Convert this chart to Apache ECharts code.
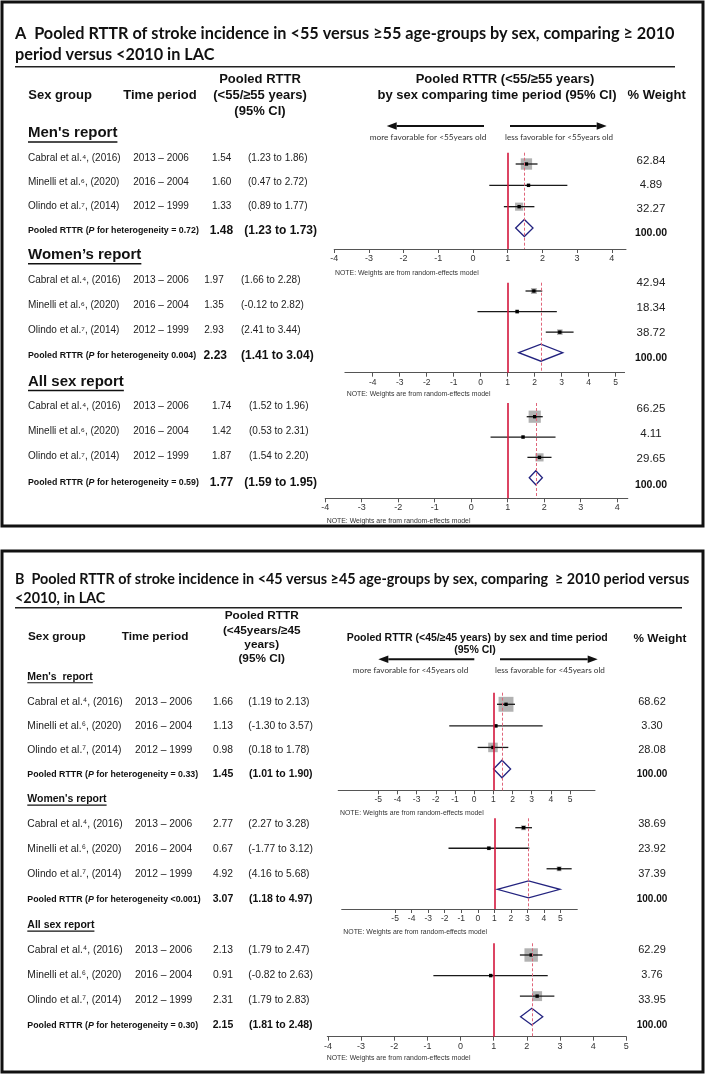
<!DOCTYPE html>
<html><head><meta charset="utf-8">
<script src="https://cdn.jsdelivr.net/npm/echarts@6/dist/echarts.min.js"></script>
<style>html,body{margin:0;padding:0;background:#fff}#c{width:709px;height:1075px}</style>
</head><body><div id="c"></div>
<script>
// ================= DATA =================
const studyLabels = ['Cabral et al.\u2074, (2016)', 'Minelli et al.\u2076, (2020)', 'Olindo et al.\u2077, (2014)'];
const timePeriods = ['2013 \u2013 2006', '2016 \u2013 2004', '2012 \u2013 1999'];
const sexGroupsA = ["Men's report", "Women\u2019s report", "All sex report"];
const sexGroupsB = ["Men's  report", "Women's report", "All sex report"];
const pooledWeight = 100.00;

// Panel A (<55 vs >=55)
const aMenRTTR = [1.54, 1.60, 1.33];
const aMenLow = [1.23, 0.47, 0.89];
const aMenHigh = [1.86, 2.72, 1.77];
const aMenWeight = [62.84, 4.89, 32.27];
const aMenPooled = [1.48, 1.23, 1.73];
const aWomenRTTR = [1.97, 1.35, 2.93];
const aWomenLow = [1.66, -0.12, 2.41];
const aWomenHigh = [2.28, 2.82, 3.44];
const aWomenWeight = [42.94, 18.34, 38.72];
const aWomenPooled = [2.23, 1.41, 3.04];
const aAllRTTR = [1.74, 1.42, 1.87];
const aAllLow = [1.52, 0.53, 1.54];
const aAllHigh = [1.96, 2.31, 2.20];
const aAllWeight = [66.25, 4.11, 29.65];
const aAllPooled = [1.77, 1.59, 1.95];
const aHeterogeneity = ['= 0.72', '0.004', '= 0.59'];
const aMenTicks = [-4, -3, -2, -1, 0, 1, 2, 3, 4];
const aWomenTicks = [-4, -3, -2, -1, 0, 1, 2, 3, 4, 5];
const aAllTicks = [-4, -3, -2, -1, 0, 1, 2, 3, 4];

// Panel B (<45 vs >=45)
const bMenRTTR = [1.66, 1.13, 0.98];
const bMenLow = [1.19, -1.30, 0.18];
const bMenHigh = [2.13, 3.57, 1.78];
const bMenWeight = [68.62, 3.30, 28.08];
const bMenPooled = [1.45, 1.01, 1.90];
const bWomenRTTR = [2.77, 0.67, 4.92];
const bWomenLow = [2.27, -1.77, 4.16];
const bWomenHigh = [3.28, 3.12, 5.68];
const bWomenWeight = [38.69, 23.92, 37.39];
const bWomenPooled = [3.07, 1.18, 4.97];
const bAllRTTR = [2.13, 0.91, 2.31];
const bAllLow = [1.79, -0.82, 1.79];
const bAllHigh = [2.47, 2.63, 2.83];
const bAllWeight = [62.29, 3.76, 33.95];
const bAllPooled = [2.15, 1.81, 2.48];
const bHeterogeneity = ['= 0.33', '<0.001', '= 0.30'];
const bMenTicks = [-5, -4, -3, -2, -1, 0, 1, 2, 3, 4, 5];
const bWomenTicks = [-5, -4, -3, -2, -1, 0, 1, 2, 3, 4, 5];
const bAllTicks = [-4, -3, -2, -1, 0, 1, 2, 3, 4, 5];

// ================= LAYOUT (positions / styles) =================
const SANS = 'Liberation Sans, Arial, sans-serif';
const CAL = 'Lato, Carlito, sans-serif';
const panels = [
  {
    title: ['A  Pooled RTTR of stroke incidence in <55 versus \u226555 age-groups by sex, comparing \u2265 2010', 'period versus <2010 in LAC'],
    box: [2, 2, 701, 524], titleY: [33.3, 55], titleFit: {w: 660}, ruleY: 66.7, ruleX2: 675,
    headerSize: 13,
    header: [
      ['Sex group', 28.3, 95.7, 'left'], ['Time period', 123.3, 95.7, 'left'],
      ['Pooled RTTR', 260, 79.3, 'center'], ['(<55/\u226555 years)', 260, 95.7, 'center'], ['(95% CI)', 260, 111.7, 'center'],
      ['Pooled RTTR (<55/\u226555 years)', 505, 79.3, 'center'], ['by sex comparing time period (95% CI)', 497, 95.7, 'center'],
      ['% Weight', 656.7, 95.7, 'center']
    ],
    arrows: {y: 126, left: [484, 386.7], right: [510, 606.7], labY: 137.3,
      labels: [['more favorable for <55years old', 428, 116.7], ['less favorable for <55years old', 559, 108.3]]},
    groups: sexGroupsA, headingSize: 15, rowSize: 10, pLabelSize: 8.8, pValSize: 12, weightSize: 11.5, weightBoldSize: 10.5,
    weightX: 651, weightDy: 2.5, studyX: 28, timeX: 133.3,
    sections: [
      {data: [aMenRTTR, aMenLow, aMenHigh, aMenWeight, aMenPooled, aHeterogeneity[0], aMenTicks],
       headY: 133.3, rows: [158.3, 182.7, 206, 230.7], estX: 221.7, ciX: 248, pEstX: 221.5, pCiX: 244.3,
       f: {left: 334.2, right: 626, top: 152.7, axisY: 249, row1: 164, row4: 228, min: -4, max: 4.41, k: 1.43, dH: 17, lab: 9, noteX: 335, noteY: 273}},
      {data: [aWomenRTTR, aWomenLow, aWomenHigh, aWomenWeight, aWomenPooled, aHeterogeneity[1], aWomenTicks],
       headY: 255, rows: [280, 305, 330.7, 356], estX: 214, ciX: 241, pEstX: 215.3, pCiX: 241,
       f: {left: 344.9, right: 624.6, top: 282.7, axisY: 372.7, row1: 291, row4: 352.7, min: -5.03, max: 5.33, k: 0.9, dH: 17, lab: 8.5, noteX: 346.7, noteY: 394}},
      {data: [aAllRTTR, aAllLow, aAllHigh, aAllWeight, aAllPooled, aHeterogeneity[2], aAllTicks],
       headY: 381.7, rows: [406.7, 431.7, 456.7, 482.7], estX: 221.7, ciX: 249, pEstX: 221.5, pCiX: 244.3,
       f: {left: 325.2, right: 627.8, top: 403, axisY: 498.3, row1: 416.7, row4: 477.7, min: -4, max: 4.29, k: 1.5, dH: 14, lab: 9, noteX: 326.7, noteY: 520.7}}
    ]
  },
  {
    title: ['B  Pooled RTTR of stroke incidence in <45 versus \u226545 age-groups by sex, comparing  \u2265 2010 period versus', '<2010, in LAC'],
    box: [2, 551, 701, 521], titleY: [579.3, 598.3], titleFit: {prefix: 'B  Pooled RTTR of stroke incidence in <45 versus \u226545 age-gr', w: 385}, ruleY: 607.7, ruleX2: 682,
    headerSize: 11.8,
    header: [
      ['Sex group', 28, 636.7, 'left'], ['Time period', 121.7, 636.7, 'left'],
      ['Pooled RTTR', 261.7, 616, 'center'], ['(<45years/\u226545', 261.7, 630.7, 'center'], ['years)', 261.7, 644.3, 'center'], ['(95% CI)', 261.7, 658.3, 'center'],
      ['Pooled RTTR (<45/\u226545 years) by sex and time period', 346.7, 638.3, 'left', 10.5], ['(95% CI)', 475, 650, 'center', 10.5],
      ['% Weight', 660, 638.3, 'center']
    ],
    arrows: {y: 659.3, left: [474.3, 378.3], right: [500, 597.7], labY: 670.7,
      labels: [['more favorable for <45years old', 410.5, 115.6], ['less favorable for <45years old', 550, 110]]},
    groups: sexGroupsB, headingSize: 10.5, rowSize: 10.3, pLabelSize: 8.8, pValSize: 10.5, weightSize: 11, weightBoldSize: 10,
    weightX: 652, weightDy: 0, studyX: 27.3, timeX: 135,
    sections: [
      {data: [bMenRTTR, bMenLow, bMenHigh, bMenWeight, bMenPooled, bHeterogeneity[0], bMenTicks],
       headY: 676.7, rows: [702.3, 726, 750, 774.3], estX: 223, ciX: 248.3, pEstX: 223, pCiX: 249,
       f: {left: 338.2, right: 595, top: 692.7, axisY: 790.3, row1: 704.3, row4: 769, min: -7.09, max: 6.3, k: 1.8, dH: 17.5, lab: 8.5, noteX: 340, noteY: 813.3}},
      {data: [bWomenRTTR, bWomenLow, bWomenHigh, bWomenWeight, bWomenPooled, bHeterogeneity[1], bWomenTicks],
       headY: 799, rows: [824, 849.3, 874.3, 899.3], estX: 223, ciX: 248.3, pEstX: 223, pCiX: 249,
       f: {left: 341.7, right: 577.3, top: 818.3, axisY: 909, row1: 827.7, row4: 889.3, min: -8.23, max: 6.02, k: 0.8, dH: 17, lab: 8.5, noteX: 343.3, noteY: 932.3}},
      {data: [bAllRTTR, bAllLow, bAllHigh, bAllWeight, bAllPooled, bHeterogeneity[2], bAllTicks],
       headY: 925, rows: [950, 975, 1000, 1025.5], estX: 223, ciX: 248.3, pEstX: 223, pCiX: 249,
       f: {left: 327.3, right: 626.3, top: 943.3, axisY: 1036.7, row1: 955, row4: 1016.7, min: -4.02, max: 5, k: 1.7, dH: 16.7, lab: 9, noteX: 326.7, noteY: 1058.3}}
    ]
  }
];

// ================= HELPERS =================
const ctx = document.createElement('canvas').getContext('2d');
function measure(text, size, weight, family) {
  ctx.font = (weight || 'normal') + ' ' + size + 'px ' + family;
  return ctx.measureText(text).width;
}
function fit(text, weight, family, w) { return 100 * w / measure(text, 100, weight, family); }
function T(text, x, y, size, o) {
  o = o || {};
  const align = o.align || 'left';
  return {type: 'text', silent: true, z: 10, style: {
    text: text, x: x, y: y, fontSize: size, fontFamily: o.family || SANS, fontWeight: o.weight || 'normal',
    fontStyle: o.style || 'normal', fill: o.color || '#1a1a1a',
    textAlign: align, align: align, textVerticalAlign: 'middle', verticalAlign: 'middle', rich: o.rich
  }};
}
function L(x1, y1, x2, y2, w, color) {
  return {type: 'line', silent: true, z: 10, shape: {x1: x1, y1: y1, x2: x2, y2: y2}, style: {stroke: color || '#111', lineWidth: w}};
}
function arrow(tail, head, y) {
  const dir = head > tail ? 1 : -1, hl = 10, hw = 3.8;
  return [L(tail, y, head - dir * hl, y, 2, '#111'),
    {type: 'polygon', silent: true, z: 10, shape: {points: [[head, y], [head - dir * hl, y - hw], [head - dir * hl, y + hw]]}, style: {fill: '#111'}}];
}

const graphics = [];
const grids = [], xAxes = [], yAxes = [], series = [];

panels.forEach(function (P) {
  // box and title
  graphics.push({type: 'rect', silent: true, z: 9, shape: {x: P.box[0], y: P.box[1], width: P.box[2], height: P.box[3]}, style: {fill: 'none', stroke: '#111', lineWidth: 3}});
  const tSize = P.titleFit.prefix ? fit(P.titleFit.prefix, 'bold', CAL, P.titleFit.w) : fit(P.title[0], 'bold', CAL, P.titleFit.w);
  graphics.push(T(P.title[0], 15, P.titleY[0], tSize, {family: CAL, weight: 'bold', color: '#111'}));
  graphics.push(T(P.title[1], 15, P.titleY[1], tSize, {family: CAL, weight: 'bold', color: '#111'}));
  graphics.push(L(15, P.ruleY, P.ruleX2, P.ruleY, 1.6, '#222'));
  P.header.forEach(function (h) {
    graphics.push(T(h[0], h[1], h[2], h[4] || P.headerSize, {weight: 'bold', align: h[3], color: '#111'}));
  });
  // arrows
  arrow(P.arrows.left[0], P.arrows.left[1], P.arrows.y).forEach(g => graphics.push(g));
  arrow(P.arrows.right[0], P.arrows.right[1], P.arrows.y).forEach(g => graphics.push(g));
  P.arrows.labels.forEach(function (a) {
    graphics.push(T(a[0], a[1], P.arrows.labY, fit(a[0], 'normal', CAL, a[2]), {family: CAL, align: 'center', color: '#333'}));
  });

  P.sections.forEach(function (S, si) {
    const est = S.data[0], lo = S.data[1], hi = S.data[2], w = S.data[3], pooled = S.data[4], het = S.data[5], ticks = S.data[6];
    // heading with underline
    const hText = P.groups[si];
    graphics.push(T(hText, P.studyX, S.headY, P.headingSize, {weight: 'bold', color: '#111'}));
    const hw = measure(hText, P.headingSize, 'bold', SANS);
    const uy = S.headY + P.headingSize * 0.58;
    graphics.push(L(P.studyX, uy, P.studyX + hw, uy, P.headingSize > 12 ? 1.5 : 1.1, '#111'));
    // study rows
    for (let j = 0; j < 3; j++) {
      const y = S.rows[j];
      graphics.push(T(studyLabels[j], P.studyX, y, P.rowSize, {color: '#222'}));
      graphics.push(T(timePeriods[j], P.timeX, y, P.rowSize, {color: '#222'}));
      graphics.push(T(est[j].toFixed(2), S.estX, y, P.rowSize, {align: 'center', color: '#222'}));
      graphics.push(T('(' + lo[j].toFixed(2) + ' to ' + hi[j].toFixed(2) + ')', S.ciX, y, P.rowSize, {color: '#222'}));
      graphics.push(T(w[j].toFixed(2), P.weightX, y + P.weightDy, P.weightSize, {align: 'center', color: '#222'}));
    }
    // pooled row
    const py = S.rows[3];
    const rich = {
      a: {fontSize: P.pLabelSize, fontWeight: 'bold', fontFamily: SANS, fill: '#111'},
      i: {fontSize: P.pLabelSize, fontWeight: 'bold', fontStyle: 'italic', fontFamily: SANS, fill: '#111'}
    };
    graphics.push(T('{a|Pooled RTTR (}{i|P}{a| for heterogeneity ' + het + ')}', P.studyX, py, P.pLabelSize, {weight: 'bold', rich: rich}));
    graphics.push(T(pooled[0].toFixed(2), S.pEstX, py, P.pValSize, {weight: 'bold', align: 'center', color: '#111'}));
    graphics.push(T('(' + pooled[1].toFixed(2) + ' to ' + pooled[2].toFixed(2) + ')', S.pCiX, py, P.pValSize, {weight: 'bold', color: '#111'}));
    graphics.push(T(pooledWeight.toFixed(2), P.weightX, py + P.weightDy, P.weightBoldSize, {weight: 'bold', align: 'center', color: '#111'}));
    // note
    graphics.push(T('NOTE: Weights are from random-effects model', S.f.noteX, S.f.noteY, 6.9, {color: '#333'}));

    // forest plot grid
    const f = S.f, gi = grids.length;
    const s = (f.row4 - f.row1) / 3;
    grids.push({left: f.left, top: f.top, width: f.right - f.left, height: f.axisY - f.top, containLabel: false});
    xAxes.push({gridIndex: gi, type: 'value', min: f.min, max: f.max,
      axisLine: {show: true, lineStyle: {color: '#555', width: 1}},
      axisTick: {show: true, length: 4, lineStyle: {color: '#555'}, customValues: ticks},
      axisLabel: {customValues: ticks, fontSize: f.lab, color: '#333', margin: 5, fontFamily: SANS},
      splitLine: {show: false}});
    yAxes.push({gridIndex: gi, type: 'value', inverse: true, show: false,
      min: 1 - (f.row1 - f.top) / s, max: 1 + (f.axisY - f.row1) / s});
    const k = f.k, dH = f.dH;
    series.push({
      type: 'custom', xAxisIndex: gi, yAxisIndex: gi, silent: true, animation: false, z: 2,
      data: [[pooled[0], pooled[1], pooled[2], 4]],
      encode: {x: [0, 1, 2], y: 3},
      renderItem: function (params, api) {
        const yv = api.value(3);
        const c = api.coord([api.value(0), yv]), l = api.coord([api.value(1), yv]), r = api.coord([api.value(2), yv]);
        return {type: 'polygon', shape: {points: [[l[0], c[1]], [c[0], c[1] - dH / 2], [r[0], c[1]], [c[0], c[1] + dH / 2]]},
          style: {fill: 'none', stroke: '#23237f', lineWidth: 1.3}};
      },
      markLine: {silent: true, symbol: 'none', label: {show: false}, animation: false,
        data: [
          {xAxis: 1, lineStyle: {color: '#d4163c', width: 1.6, type: 'solid'}},
          {xAxis: pooled[0], lineStyle: {color: '#e0657a', width: 1, type: [3, 2]}}
        ]}
    });
    series.push({
      type: 'custom', xAxisIndex: gi, yAxisIndex: gi, silent: true, animation: false, z: 3,
      data: est.map(function (e, j) { return [e, lo[j], hi[j], j + 1, w[j]]; }),
      encode: {x: [0, 1, 2], y: 3},
      renderItem: function (params, api) {
        const yv = api.value(3);
        const c = api.coord([api.value(0), yv]), l = api.coord([api.value(1), yv]), r = api.coord([api.value(2), yv]);
        const side = k * Math.sqrt(api.value(4));
        return {type: 'group', children: [
          {type: 'rect', shape: {x: c[0] - side / 2, y: c[1] - side / 2, width: side, height: side}, style: {fill: '#b2b2b2'}},
          {type: 'line', shape: {x1: l[0], y1: c[1], x2: r[0], y2: c[1]}, style: {stroke: '#1a1a1a', lineWidth: 1.3}},
          {type: 'rect', shape: {x: c[0] - 1.7, y: c[1] - 1.7, width: 3.4, height: 3.4}, style: {fill: '#000'}}
        ]};
      }
    });
  });
});

const chart = echarts.init(document.getElementById('c'), null, {renderer: 'canvas', width: 709, height: 1075});
chart.setOption({
  animation: false,
  backgroundColor: '#ffffff',
  grid: grids, xAxis: xAxes, yAxis: yAxes, series: series,
  graphic: {elements: graphics}
});
</script>
</body></html>
